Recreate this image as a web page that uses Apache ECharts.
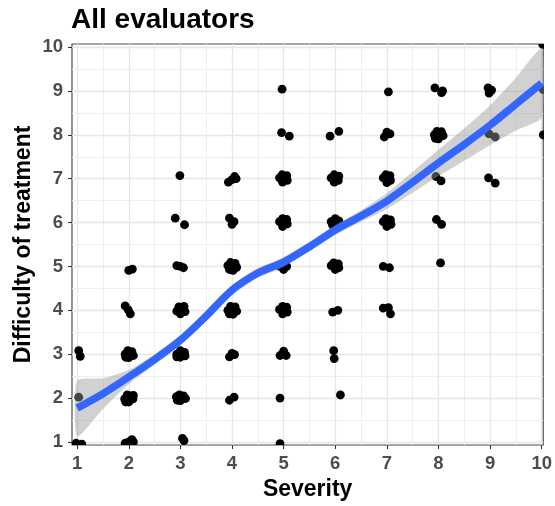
<!DOCTYPE html>
<html>
<head>
<meta charset="utf-8">
<script src="https://cdn.jsdelivr.net/npm/echarts@6/dist/echarts.min.js"></script>
<style>
html,body{margin:0;padding:0;background:#fff;}
#chart{width:555px;height:506px;}
</style>
</head>
<body>
<div id="chart"></div>
<script>
// Tick labels
const xTicks = [1,2,3,4,5,6,7,8,9,10];
const yTicks = [1,2,3,4,5,6,7,8,9,10];
const xMinorTicks = [1.5,2.5,3.5,4.5,5.5,6.5,7.5,8.5,9.5];
const yMinorTicks = [1.5,2.5,3.5,4.5,5.5,6.5,7.5,8.5,9.5];

// Jittered evaluator ratings (severity, difficulty)
const severity = [
  0.98,1.09, 1.03, 1.03,1.06,
  1.93,2.00,2.06,2.09, 1.92,1.97,2.04,2.08,2.00,1.94,2.09, 1.93,1.98,2.06,2.09,2.00,1.94, 1.93,1.99,2.03, 2.00,2.07,
  3.04,3.07, 2.92,2.98,3.06,3.10,3.00,2.94, 2.93,3.00,3.08,3.09,3.00,2.93, 2.93,2.97,3.07,3.09,3.00, 2.93,3.00,3.06, 2.90,3.08, 2.99,
  3.95,4.04, 3.95,4.00,4.05, 3.92,3.97,4.06,4.09,4.02,3.95, 3.92,3.97,4.06,4.09,4.02,3.95, 3.95,4.00,4.04, 3.93,4.00,4.05,4.08,
  4.93, 4.93, 4.93,5.00,5.05, 4.92,4.98,5.06,5.07,4.98, 4.93,5.00,5.06,5.00, 4.92,4.98,5.06,5.07,4.98, 4.92,4.97,5.06,5.07,4.98, 4.96,5.11, 4.97,
  6.10, 5.97,5.98, 5.95,6.05, 5.92,5.97,6.06,6.07,6.00, 5.92,6.00,6.07,6.02,5.95, 5.92,5.98,6.07,6.06,5.98, 5.90,6.07,
  6.93,7.03,7.07, 6.93,7.05, 6.93,6.98,7.07,7.08,7.00, 6.93,6.98,7.06,7.07,7.00, 6.95,7.00,7.06, 7.03,
  8.04, 7.96,8.06, 7.95,8.05, 7.92,7.97,8.06,8.09,8.00,7.94, 7.93,8.06,8.08,
  8.97,9.10, 8.98,9.10, 8.96,8.98,9.03,
  10.03, 10.03, 10.02
];
const difficulty = [
  0.97,0.95, 2.02, 3.08,2.95,
  0.97,1.00,1.05,1.00, 1.98,2.07,2.05,1.98,1.91,1.91,2.06, 3.00,3.08,3.06,2.97,2.92,2.93, 4.10,4.01,3.92, 4.91,4.94,
  1.08,1.03, 2.03,2.07,2.05,1.99,1.94,1.95, 3.00,3.08,3.04,2.96,2.93,2.94, 3.98,4.08,4.09,3.97,3.92, 5.02,5.00,4.97, 6.10,5.95, 7.07,
  1.95,2.02, 2.94,3.02,2.99, 4.00,4.09,4.08,3.98,3.91,3.92, 5.02,5.09,5.07,4.98,4.91,4.93, 6.10,5.96,6.02, 6.92,6.98,7.05,7.00,
  0.96, 2.00, 2.97,3.07,2.97, 4.02,4.09,4.07,3.96,3.92, 5.00,5.07,5.00,4.93, 6.02,6.09,6.07,5.97,5.91, 7.02,7.09,7.07,6.96,6.92, 8.05,7.97, 9.04,
  2.07, 3.08,2.90, 3.96,4.00, 5.02,5.08,5.06,4.97,4.93, 6.02,6.09,6.04,5.92,5.94, 7.02,7.09,7.06,6.96,6.92, 7.97,8.08,
  4.05,4.06,3.92, 5.00,4.97, 6.02,6.09,6.06,5.96,5.91, 7.02,7.09,7.07,6.96,6.91, 7.95,8.06,8.02, 8.98,
  5.08, 6.07,5.96, 7.05,6.95, 8.00,8.08,8.07,7.98,7.91,7.92, 9.07,8.96,9.00,
  7.02,6.90, 8.02,7.95, 9.07,8.95,9.02,
  8.00, 9.03, 10.06
];

// Smoothed trend with confidence band
const smoothX = [1,1.5,2,2.5,3,3.5,4,4.5,5,5.5,6,6.5,7,7.5,8,8.5,9,9.5,10];
const smoothY = [1.77,2.10,2.48,2.88,3.32,3.87,4.46,4.85,5.10,5.45,5.83,6.15,6.49,6.92,7.36,7.78,8.22,8.70,9.18];
const bandLow  = [1.12,1.75,2.32,2.76,3.21,3.76,4.35,4.74,4.99,5.34,5.72,6.02,6.31,6.68,7.06,7.41,7.77,8.10,8.40];
const bandHigh = [2.40,2.45,2.64,3.00,3.43,3.98,4.57,4.96,5.21,5.56,5.94,6.28,6.67,7.16,7.66,8.15,8.67,9.30,9.96];

const FONT = '"Liberation Sans", Arial, Helvetica, sans-serif';
const chart = echarts.init(document.getElementById('chart'), null, {renderer:'canvas'});

function mainAxis(minV, maxV, ticks, name, isX){
  const ax = {
    type:'value', min:minV, max:maxV, gridIndex:0,
    name:name, nameLocation:'middle', nameGap: isX ? 33 : 37,
    nameTextStyle:{fontFamily:FONT, fontWeight:'bold', fontSize:23, color:'#000'},
    axisLine:{show:false},
    axisTick:{show:true, customValues:ticks, length:4, inside:false, lineStyle:{color:'#333', width:1.1}},
    axisLabel:{show:true, customValues:ticks, margin: 9, fontFamily:FONT, fontWeight:'bold', fontSize:18.5, color:'#4d4d4d'},
    splitLine:{show:true, lineStyle:{color:'#e6e6e6', width:1.3}},
    z:1
  };
  if (!isX) ax.nameMoveOverlap = false;
  return ax;
}
function minorAxis(minV, maxV, ticks){
  return {
    type:'value', min:minV, max:maxV, gridIndex:0,
    axisLine:{show:false},
    axisTick:{show:false, customValues:ticks},
    axisLabel:{show:false, customValues:ticks},
    splitLine:{show:true, lineStyle:{color:'#efefef', width:1}},
    z:0
  };
}

const points = severity.map((s,i)=>[s, difficulty[i]]);
const smoothData = smoothX.map((x,i)=>[x, smoothY[i]]);

chart.setOption({
  animation:false,
  backgroundColor:'#fff',
  title:{text:'All evaluators', left:71, top:6, padding:0,
    textStyle:{fontFamily:FONT, fontWeight:'bold', fontSize:28, color:'#000'}},
  grid:{left:72, right:6, top:44, bottom:61, show:true, borderColor:'#4d4d4d', borderWidth:1.2, backgroundColor:'#fff', containLabel:false},
  xAxis:[mainAxis(0.9, 10.03, xTicks, 'Severity', true), minorAxis(0.9, 10.03, xMinorTicks)],
  yAxis:[mainAxis(0.93, 10.07, yTicks, 'Difficulty of treatment', false), minorAxis(0.93, 10.07, yMinorTicks)],
  series:[
    {type:'custom', xAxisIndex:0, yAxisIndex:0, coordinateSystem:'cartesian2d', data:points, z:2, silent:true, clip:true,
     encode:{x:0, y:1},
     renderItem:function(params, api){
       const c = api.coord([api.value(0), api.value(1)]);
       return {type:'circle', shape:{cx:c[0], cy:c[1], r:4.4}, style:{fill:'#000'}};
     }},
    {type:'custom', xAxisIndex:0, yAxisIndex:0, coordinateSystem:'cartesian2d', data:[[1,1]], z:3, silent:true, clip:true,
     renderItem:function(params, api){
       const pts = [];
       for (let i=0;i<smoothX.length;i++) pts.push(api.coord([smoothX[i], bandHigh[i]]));
       for (let i=smoothX.length-1;i>=0;i--) pts.push(api.coord([smoothX[i], bandLow[i]]));
       return {type:'polygon', shape:{points:pts, smooth:0.2}, style:{fill:'rgba(153,153,153,0.45)'}};
     }},
    {type:'line', xAxisIndex:0, yAxisIndex:0, data:smoothData, smooth:0.3, showSymbol:false, z:4, silent:true, clip:true,
     lineStyle:{color:'#3366FF', width:7.5}}
  ]
});
</script>
</body>
</html>
